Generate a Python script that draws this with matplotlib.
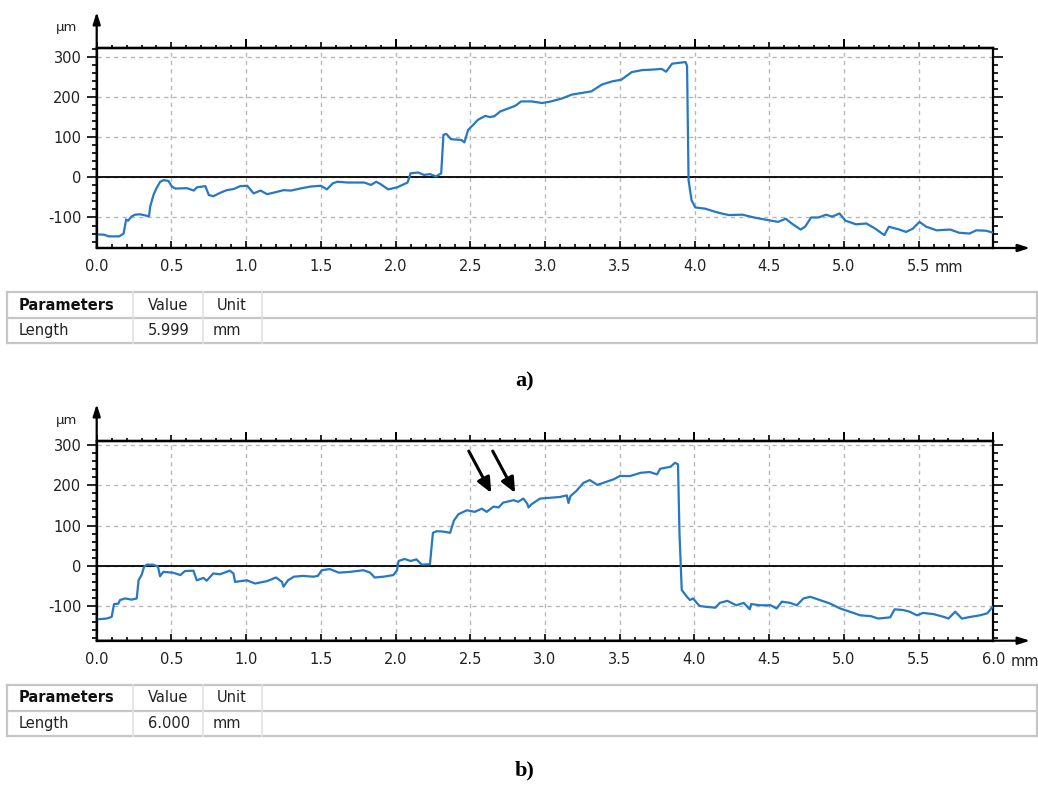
import matplotlib.pyplot as plt
from matplotlib.ticker import MultipleLocator

plt.rcParams['font.family'] = 'DejaVu Sans'
plt.rcParams['axes.unicode_minus'] = False

W, H = 1038, 789

# profile a: position (mm) and height (um)
xa = [0.0, 0.05, 0.08, 0.15, 0.18, 0.197, 0.21, 0.235, 0.257, 0.29, 0.35, 0.358,
      0.38, 0.40, 0.425, 0.447, 0.48, 0.503, 0.526, 0.604, 0.65, 0.67, 0.727, 0.75,
      0.78, 0.83, 0.87, 0.917, 0.96, 1.007, 1.05, 1.096, 1.14, 1.186, 1.25, 1.30,
      1.36, 1.43, 1.50, 1.54, 1.58, 1.61, 1.68, 1.79, 1.835, 1.87, 1.90, 1.95, 2.01,
      2.08, 2.10, 2.15, 2.19, 2.23, 2.27, 2.305, 2.32, 2.34, 2.37, 2.44, 2.46, 2.485,
      2.52, 2.55, 2.60, 2.63, 2.66, 2.70, 2.75, 2.80, 2.84, 2.91, 2.98, 3.04, 3.11,
      3.18, 3.245, 3.31, 3.38, 3.45, 3.51, 3.58, 3.65, 3.71, 3.78, 3.81, 3.85, 3.94,
      3.95, 3.96, 3.98, 4.005, 4.07, 4.14, 4.18, 4.23, 4.32, 4.41, 4.50, 4.56, 4.61,
      4.65, 4.71, 4.74, 4.78, 4.83, 4.88, 4.92, 4.97, 5.01, 5.08, 5.15, 5.21, 5.27,
      5.30, 5.37, 5.415, 5.46, 5.505, 5.55, 5.62, 5.71, 5.77, 5.84, 5.885, 5.95, 5.999]
ya = [-142, -143, -147, -147, -140, -105, -108, -97, -93, -92, -97, -73,
      -44, -27, -11, -7, -9, -23, -28, -27, -33, -25, -22, -44,
      -47, -38, -32, -29, -22, -21, -40, -33, -42, -38, -32, -33,
      -28, -23, -21, -30, -15, -11, -13, -13, -19, -11, -17, -30, -25,
      -13, 10, 12, 6, 8, 2, 10, 106, 108, 95, 93, 87, 118,
      131, 143, 153, 150, 152, 164, 171, 178, 189, 189, 185, 189, 196,
      206, 210, 214, 231, 239, 243, 262, 267, 268, 270, 263, 283, 287,
      277, -7, -57, -75, -78, -86, -90, -94, -93, -101, -107, -111, -103,
      -115, -130, -123, -100, -100, -93, -98, -90, -108, -117, -115, -128, -144,
      -123, -130, -136, -128, -111, -123, -132, -130, -138, -140, -132, -133, -138]

# profile b
xb = [0.0, 0.067, 0.10, 0.116, 0.145, 0.156, 0.19, 0.234, 0.268, 0.28, 0.30, 0.317,
      0.335, 0.38, 0.41, 0.424, 0.446, 0.51, 0.56, 0.59, 0.647, 0.67, 0.714, 0.736,
      0.78, 0.825, 0.89, 0.915, 0.926, 1.004, 1.06, 1.14, 1.20, 1.24, 1.25, 1.28,
      1.32, 1.38, 1.45, 1.48, 1.506, 1.56, 1.62, 1.695, 1.785, 1.83, 1.86, 1.92,
      1.985, 2.01, 2.02, 2.06, 2.10, 2.14, 2.175, 2.23, 2.25, 2.276, 2.32, 2.365,
      2.39, 2.42, 2.477, 2.53, 2.577, 2.61, 2.655, 2.69, 2.72, 2.79, 2.82, 2.855,
      2.88, 2.89, 2.91, 2.967, 3.03, 3.10, 3.146, 3.157, 3.17, 3.21, 3.257, 3.30,
      3.35, 3.39, 3.46, 3.50, 3.57, 3.64, 3.70, 3.75, 3.77, 3.84, 3.87, 3.89, 3.90,
      3.915, 3.95, 3.97, 3.99, 4.03, 4.04, 4.08, 4.14, 4.17, 4.22, 4.28, 4.33, 4.37,
      4.38, 4.44, 4.51, 4.55, 4.585, 4.64, 4.685, 4.73, 4.775, 4.84, 4.91, 4.975,
      5.04, 5.11, 5.18, 5.23, 5.31, 5.34, 5.40, 5.44, 5.49, 5.53, 5.60, 5.67, 5.70,
      5.745, 5.79, 5.845, 5.91, 5.96, 5.99, 6.0]
yb = [-133, -131, -127, -95, -94, -85, -81, -84, -81, -36, -23, -2.5,
      3, 2.5, -2, -26, -15, -17, -23, -13, -12, -36, -30, -37,
      -19, -21, -12, -19, -40, -36, -44, -38, -29, -40, -52, -36,
      -27, -25, -27, -25, -11, -8, -17, -15, -11, -17, -29, -27,
      -23, -11, 12, 17, 12, 16, 3, 4, 82, 86, 85, 82,
      112, 128, 138, 134, 142, 134, 147, 145, 157, 163, 159, 167,
      155, 145, 153, 167, 169, 171, 175, 156, 173, 186, 206, 213,
      201, 206, 215, 223, 223, 231, 233, 227, 241, 246, 256, 252, 80,
      -60, -77, -85, -81, -98, -100, -102, -104, -92, -87, -98, -92, -108,
      -95, -98, -98, -106, -89, -92, -98, -81, -77, -85, -94, -106,
      -114, -123, -125, -131, -128, -108, -110, -114, -123, -117, -120, -127, -131,
      -114, -131, -127, -123, -118, -104, -102]

y_ticks = [-100, 0, 100, 200, 300]
x_ticks_a = [0.0, 0.5, 1.0, 1.5, 2.0, 2.5, 3.0, 3.5, 4.0, 4.5, 5.0, 5.5]
x_ticks_b = [0.0, 0.5, 1.0, 1.5, 2.0, 2.5, 3.0, 3.5, 4.0, 4.5, 5.0, 5.5, 6.0]

table_head = ['Parameters', 'Value', 'Unit']
table_row = 'Length'
length_a = '5.999'
length_b = '6.000'
unit = 'mm'

# arrows marking the steps on profile b: (start, end) in mm / um
marks_b = [((2.49, 285), (2.64, 181)), ((2.65, 285), (2.80, 181))]

TXT = '#222222'
BLUE = '#2678c4'
FS = 10.5


def px_box(left, top, right, bottom):
    return [left / W, 1 - bottom / H, (right - left) / W, (bottom - top) / H]


def draw_profile(fig, box, x, y, xmax, ylim, xticks, arrow_top):
    ax = fig.add_axes(px_box(*box))
    ax.plot(x, y, color=BLUE, lw=1.6, zorder=3)
    ax.axhline(0, color='black', lw=1.3, zorder=2)
    ax.set_xlim(0, xmax)
    ax.set_ylim(*ylim)
    ax.set_xticks(xticks)
    ax.set_xticklabels([f'{t:.1f}' for t in xticks])
    ax.xaxis.set_minor_locator(MultipleLocator(0.1))
    ax.set_yticks(y_ticks)
    ax.yaxis.set_minor_locator(MultipleLocator(20))
    ax.grid(True, which='major', color='#b8b8b8', ls=(0, (3, 3)), lw=1)
    for s in ax.spines.values():
        s.set_linewidth(1.6)
        s.set_color('black')
    ax.tick_params(axis='x', which='major', direction='in', length=5, width=1.2,
                   labelsize=FS, labelcolor=TXT, pad=8)
    ax.tick_params(axis='x', which='minor', direction='in', length=3, width=1.2)
    ax.tick_params(axis='y', which='major', direction='out', length=7, width=1.2,
                   left=True, right=True, labelsize=FS, labelcolor=TXT, pad=4)
    ax.tick_params(axis='y', which='minor', direction='out', length=3.5, width=1.2,
                   left=True, right=True)

    # outward ticks along the top edge
    top = ax.secondary_xaxis('top')
    top.set_xticks(xticks)
    top.xaxis.set_minor_locator(MultipleLocator(0.1))
    top.tick_params(which='major', direction='out', length=4, width=1.2, labeltop=False)
    top.tick_params(which='minor', direction='out', length=2.5, width=1.2)
    top.spines['top'].set_linewidth(1.6)
    top2 = ax.secondary_xaxis('top')
    top2.set_xticks([t for t in xticks if t > 0 and t == int(t)])
    top2.tick_params(which='major', direction='out', length=6.5, width=1.4, labeltop=False)
    top2.spines['top'].set_linewidth(1.6)

    # axis arrows
    head = '-|>,head_length=0.7,head_width=0.22'
    ax.annotate('', xy=(0, arrow_top), xytext=(0, 0), xycoords='axes fraction',
                arrowprops=dict(arrowstyle=head, color='black', lw=1.6, shrinkA=0, shrinkB=0),
                annotation_clip=False)
    ax.annotate('', xy=(1.041, 0), xytext=(0, 0), xycoords='axes fraction',
                arrowprops=dict(arrowstyle=head, color='black', lw=1.6, shrinkA=0, shrinkB=0),
                annotation_clip=False)
    return ax


def draw_table(ov, top, value):
    mid, bot = top + 26, top + 51
    lc = '#c6c6c6'
    for yy in (top, mid, bot):
        ov.plot([7, 1037], [yy, yy], color=lc, lw=1.6)
    for xx in (7, 1037):
        ov.plot([xx, xx], [top, bot], color=lc, lw=1.6)
    for xx in (133, 203, 262):
        ov.plot([xx, xx], [top, bot], color='#e2e2e2', lw=1.2)
    r1, r2 = (top + mid) / 2, (mid + bot) / 2
    ov.text(19, r1, table_head[0], ha='left', va='center', fontsize=FS,
            fontweight='bold', color='#111111')
    ov.text(168, r1, table_head[1], ha='center', va='center', fontsize=FS, color=TXT)
    ov.text(232, r1, table_head[2], ha='center', va='center', fontsize=FS, color=TXT)
    ov.text(19, r2, table_row, ha='left', va='center', fontsize=FS, color=TXT)
    ov.text(190, r2, value, ha='right', va='center', fontsize=FS, color=TXT)
    ov.text(213, r2, unit, ha='left', va='center', fontsize=FS, color=TXT)


fig = plt.figure(figsize=(W / 100, H / 100), dpi=100)

ax_a = draw_profile(fig, (96.7, 48, 993.3, 248), xa, ya, 5.999, (-176, 322),
                    x_ticks_a, 1.18)
ax_b = draw_profile(fig, (96.7, 441, 993.3, 640.7), xb, yb, 6.0, (-186, 310),
                    x_ticks_b, 1.185)

for start, end in marks_b:
    ax_b.annotate('', xy=end, xytext=start,
                  arrowprops=dict(arrowstyle='-|>,head_length=0.9,head_width=0.4',
                                  color='black', lw=2.2, shrinkA=0, shrinkB=0),
                  zorder=5)

# page overlay in pixel units for the tables and captions
ov = fig.add_axes([0, 0, 1, 1])
ov.set_xlim(0, W)
ov.set_ylim(H, 0)
ov.axis('off')

ov.text(67, 27, 'µm', ha='center', va='center', fontsize=9.5, color=TXT)
ov.text(67, 420, 'µm', ha='center', va='center', fontsize=9.5, color=TXT)
ov.text(935, 267, unit, ha='left', va='center', fontsize=FS, color=TXT)
ov.text(1011, 661, unit, ha='left', va='center', fontsize=FS, color=TXT)

draw_table(ov, 292, length_a)
draw_table(ov, 685, length_b)

ov.text(525, 381, 'a)', ha='center', va='center', fontsize=16, fontweight='bold',
        family='Liberation Serif')
ov.text(525, 770, 'b)', ha='center', va='center', fontsize=16, fontweight='bold',
        family='Liberation Serif')

fig.savefig('out.png', dpi=100)
